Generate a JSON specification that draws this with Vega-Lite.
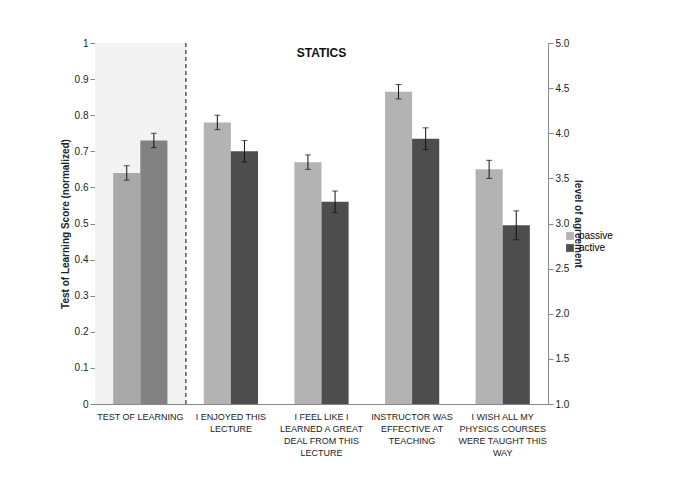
{
  "$schema": "https://vega.github.io/schema/vega-lite/v6.json",
  "width": 453,
  "height": 361,
  "autosize": "none",
  "padding": {"left": 95, "top": 43, "right": 132, "bottom": 84},
  "config": {
    "font": "Liberation Sans",
    "view": {"stroke": null},
    "axis": {"grid": false, "domainColor": "#888", "tickColor": "#888", "labelFontSize": 10, "labelColor": "#222", "titleFontSize": 10, "titleColor": "#222"}
  },
  "title": {"text": "STATICS", "fontSize": 12, "fontWeight": "bold", "offset": -22, "color": "#111"},
  "data": {
    "values": [
      {"cat": "TEST OF LEARNING", "group": "passive", "value": 0.64, "lo": 0.62, "hi": 0.66},
      {"cat": "TEST OF LEARNING", "group": "active", "value": 0.73, "lo": 0.71, "hi": 0.75},
      {"cat": "I ENJOYED THIS|LECTURE", "group": "passive", "value": 4.12, "lo": 4.04, "hi": 4.2},
      {"cat": "I ENJOYED THIS|LECTURE", "group": "active", "value": 3.8, "lo": 3.68, "hi": 3.92},
      {"cat": "I FEEL LIKE I|LEARNED A GREAT|DEAL FROM THIS|LECTURE", "group": "passive", "value": 3.68, "lo": 3.6, "hi": 3.76},
      {"cat": "I FEEL LIKE I|LEARNED A GREAT|DEAL FROM THIS|LECTURE", "group": "active", "value": 3.24, "lo": 3.12, "hi": 3.36},
      {"cat": "INSTRUCTOR WAS|EFFECTIVE AT|TEACHING", "group": "passive", "value": 4.46, "lo": 4.38, "hi": 4.54},
      {"cat": "INSTRUCTOR WAS|EFFECTIVE AT|TEACHING", "group": "active", "value": 3.94, "lo": 3.82, "hi": 4.06},
      {"cat": "I WISH ALL MY|PHYSICS COURSES|WERE TAUGHT THIS|WAY", "group": "passive", "value": 3.6, "lo": 3.5, "hi": 3.7},
      {"cat": "I WISH ALL MY|PHYSICS COURSES|WERE TAUGHT THIS|WAY", "group": "active", "value": 2.98, "lo": 2.82, "hi": 3.14}
    ]
  },
  "encoding": {
    "x": {
      "field": "cat", "type": "nominal", "sort": null, "title": null,
      "scale": {"paddingInner": 0, "paddingOuter": 0},
      "axis": {"labelAngle": 0, "labelExpr": "split(datum.label, '|')", "labelFontSize": 9, "labelLineHeight": 12, "ticks": false, "labelPadding": 8}
    }
  },
  "layer": [
    {
      "layer": [
        {
          "mark": {"type": "rect", "color": "#f3f3f3"},
          "encoding": {"x": {"datum": "TEST OF LEARNING", "type": "nominal"}, "y": {"datum": 0, "type": "quantitative"}, "y2": {"datum": 1}}
        },
        {
          "mark": {"type": "rule", "color": "#666", "strokeDash": [4, 3]},
          "encoding": {"x": {"datum": "TEST OF LEARNING", "type": "nominal", "bandPosition": 1}}
        },
        {
          "transform": [{"filter": "datum.cat == 'TEST OF LEARNING'"}],
          "layer": [
            {
              "mark": "bar",
              "encoding": {
                "xOffset": {"field": "group", "sort": ["passive", "active"], "scale": {"paddingInner": 0, "paddingOuter": 0.67}},
                "y": {"field": "value", "type": "quantitative", "scale": {"domain": [0, 1]}, "title": "Test of Learning Score (normalized)", "axis": {"tickCount": 10, "format": "~g", "titleFontWeight": "bold"}},
                "color": {"field": "group", "type": "nominal", "scale": {"domain": ["passive", "active"], "range": ["#a9a9a9", "#828282"]}, "legend": null}
              }
            },
            {
              "mark": {"type": "rule", "color": "#111"},
              "encoding": {"xOffset": {"field": "group", "sort": ["passive", "active"]}, "y": {"field": "lo", "type": "quantitative"}, "y2": {"field": "hi"}}
            },
            {
              "mark": {"type": "tick", "color": "#111", "size": 6, "thickness": 1},
              "encoding": {"xOffset": {"field": "group", "sort": ["passive", "active"]}, "y": {"field": "lo", "type": "quantitative"}}
            },
            {
              "mark": {"type": "tick", "color": "#111", "size": 6, "thickness": 1},
              "encoding": {"xOffset": {"field": "group", "sort": ["passive", "active"]}, "y": {"field": "hi", "type": "quantitative"}}
            }
          ]
        }
      ]
    },
    {
      "transform": [{"filter": "datum.cat != 'TEST OF LEARNING'"}],
      "layer": [
        {
          "mark": "bar",
          "encoding": {
            "xOffset": {"field": "group", "sort": ["passive", "active"], "scale": {"paddingInner": 0, "paddingOuter": 0.67}},
            "y": {"field": "value", "type": "quantitative", "scale": {"domain": [1, 5], "zero": false}, "title": "level of agreement", "axis": {"orient": "right", "values": [1, 1.5, 2, 2.5, 3, 3.5, 4, 4.5, 5], "titleFontWeight": "bold"}},
            "y2": {"datum": 1},
            "color": {"field": "group", "type": "nominal", "scale": {"domain": ["passive", "active"], "range": ["#b3b3b3", "#4d4d4d"]}, "legend": {"title": null, "orient": "none", "legendX": 470, "legendY": 188, "symbolType": "square", "symbolSize": 60, "labelFontSize": 10}}
          }
        },
        {
          "mark": {"type": "rule", "color": "#111"},
          "encoding": {"xOffset": {"field": "group", "sort": ["passive", "active"]}, "y": {"field": "lo", "type": "quantitative"}, "y2": {"field": "hi"}}
        },
        {
          "mark": {"type": "tick", "color": "#111", "size": 6, "thickness": 1},
          "encoding": {"xOffset": {"field": "group", "sort": ["passive", "active"]}, "y": {"field": "lo", "type": "quantitative"}}
        },
        {
          "mark": {"type": "tick", "color": "#111", "size": 6, "thickness": 1},
          "encoding": {"xOffset": {"field": "group", "sort": ["passive", "active"]}, "y": {"field": "hi", "type": "quantitative"}}
        }
      ]
    }
  ],
  "resolve": {"scale": {"y": "independent", "color": "independent"}}
}
